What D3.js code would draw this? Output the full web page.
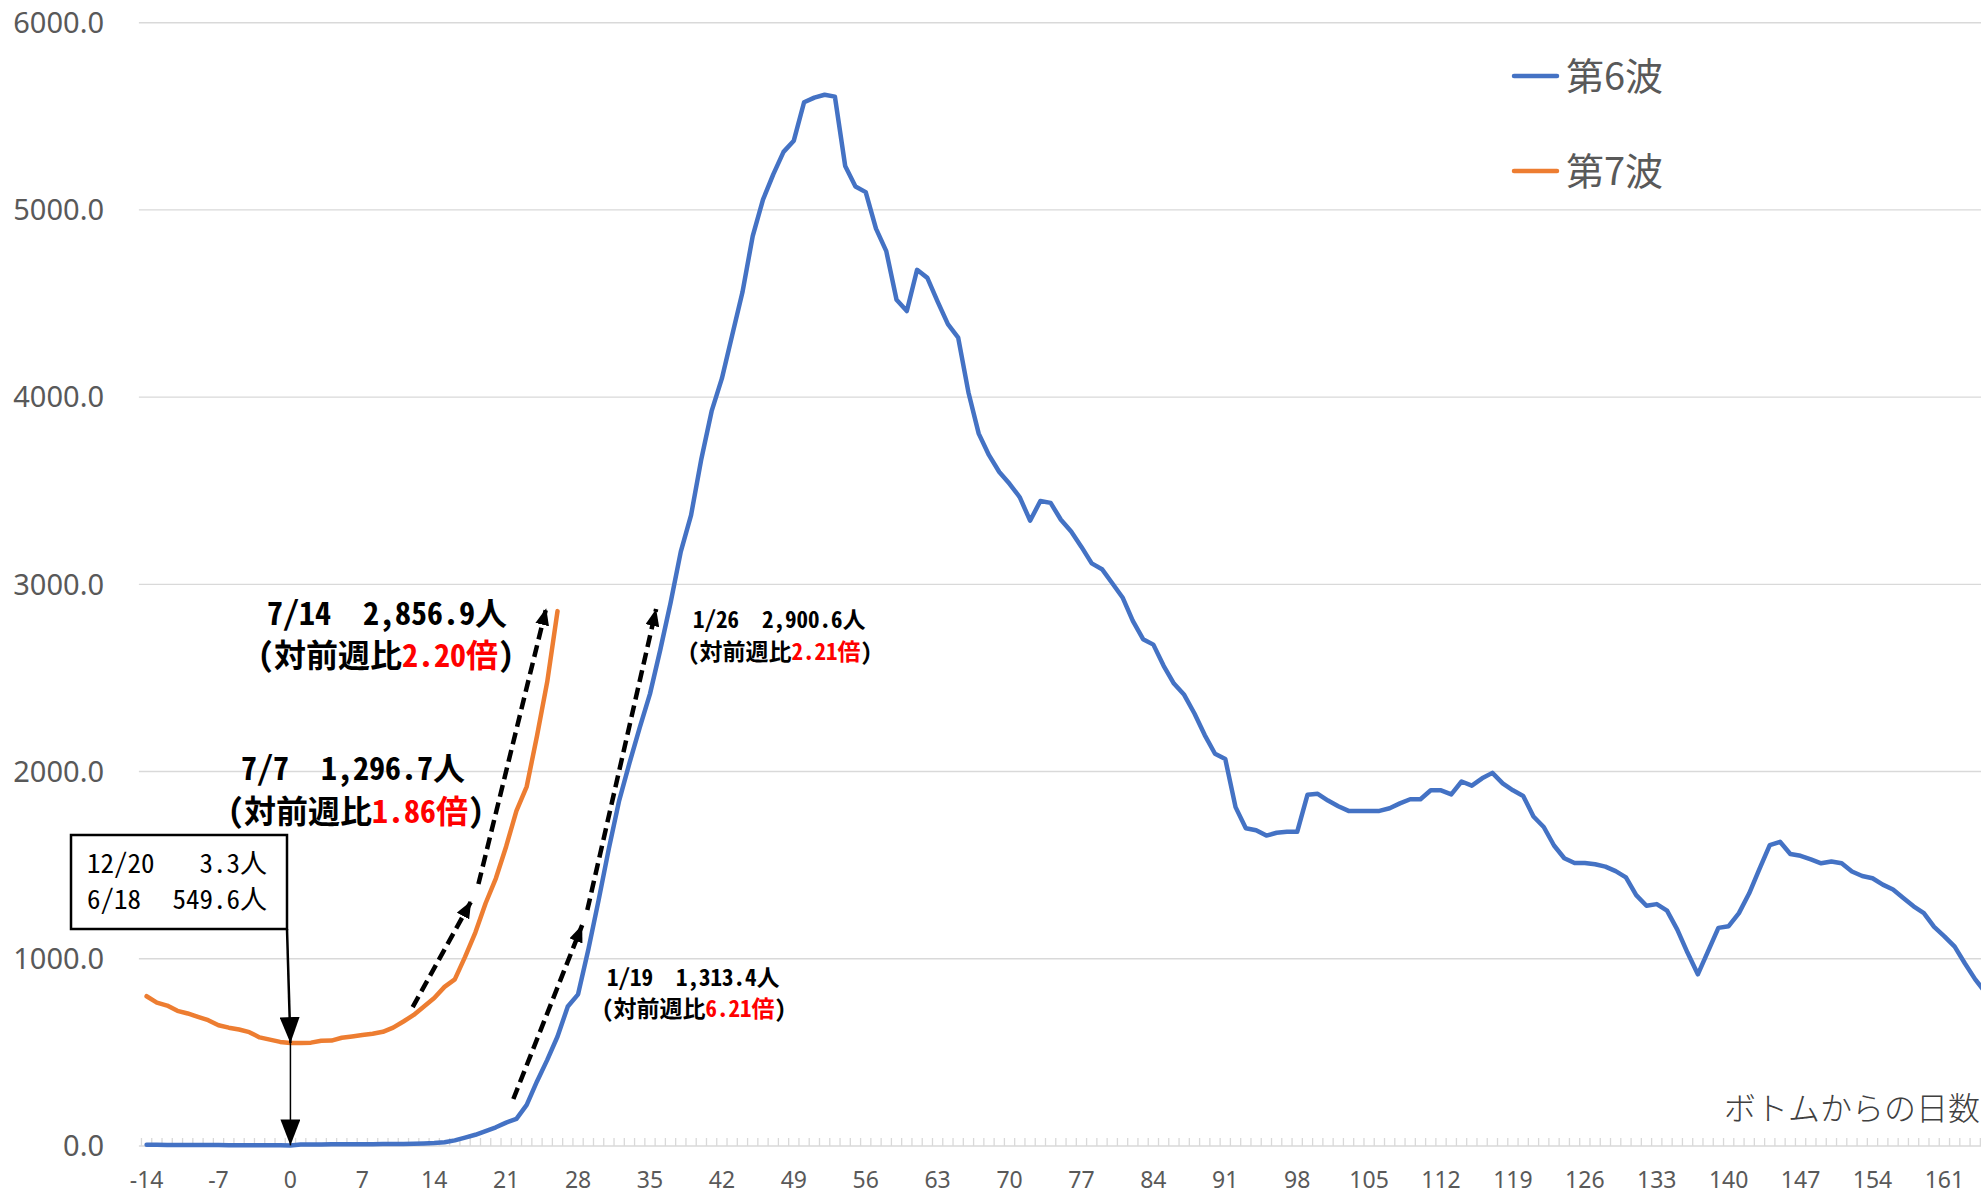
<!DOCTYPE html>
<html>
<head>
<meta charset="utf-8">
<script src="https://cdn.jsdelivr.net/npm/d3@7"></script>
<style>
body { margin: 0; background: #fff; }
svg { display: block; }
.gothic { font-family: 'Noto Sans CJK JP', sans-serif; font-feature-settings: "hwid" 1, "palt" 1; }
</style>
</head>
<body>
<div id="chart"></div>
<script>
// days counted from the bottom of each wave
var days6 = d3.range(-14, 166);
var wave6 = [
    6.6, 6.3, 6.0, 5.9, 5.6, 5.3, 5.0, 4.9, 4.6, 4.4, 4.1, 3.9, 3.7, 3.4,
    3.3,
    7.6, 8.1, 8.4, 8.7, 9.0, 9.1, 9.4, 9.9, 10.1, 10.6, 11.3, 12.0, 13.6, 16,
    20, 30, 45, 60, 80, 100, 125, 145, 220, 345, 460, 585, 745, 810,
    1050, 1313.4, 1590, 1845, 2045, 2235, 2415, 2650, 2900.6, 3175, 3370, 3670,
    3925, 4100, 4330, 4560, 4860, 5055, 5190, 5310, 5370, 5575, 5600, 5615,
    5605, 5235, 5125, 5095, 4900, 4780, 4520, 4460, 4680, 4637, 4510, 4390,
    4318, 4025, 3805, 3690, 3600, 3537, 3465, 3340, 3445, 3435, 3345, 3282,
    3200, 3112, 3081, 3006, 2930, 2805, 2707, 2678, 2565, 2470, 2410, 2310,
    2195, 2095, 2067, 1810, 1697, 1687, 1658, 1673, 1678, 1678, 1876, 1881,
    1845, 1815, 1790, 1790, 1790, 1790, 1804, 1830, 1852, 1852, 1900, 1900,
    1878, 1947, 1925, 1964, 1993, 1937, 1900, 1870, 1760, 1704, 1605, 1537,
    1512, 1512, 1505, 1492, 1468, 1435, 1340, 1283, 1292, 1257, 1156, 1032,
    917, 1041, 1165, 1174, 1244, 1350, 1480, 1607, 1625, 1560, 1550, 1531,
    1510, 1520, 1510, 1466, 1442, 1430, 1396, 1370, 1325, 1280, 1244, 1170,
    1120, 1065, 975, 890, 820
];
var days7 = d3.range(-14, 27);
var wave7 = [
    800, 766, 750, 722, 708, 690, 672, 645, 632, 622, 608, 580, 568, 556,
    549.6,
    550, 552, 562, 563, 578, 585, 593, 600, 610, 632, 665, 700, 745, 790,
    850, 890, 1010, 1140, 1296.7, 1430, 1600, 1790, 1920, 2190, 2480, 2856.9
];
var seriesNames = ["第6波", "第7波"];
var seriesColors = ["#4472C4", "#ED7D31"];
var xTicks = d3.range(-14, 162, 7);
var yTicks = [0, 1000, 2000, 3000, 4000, 5000, 6000];
var xTitle = "ボトムからの日数";

var width = 1981, height = 1194;
var x = d3.scaleLinear().domain([-14, 161]).range([146.6, 1944.4]);
var y = d3.scaleLinear().domain([0, 6000]).range([1146, 22.7]);
var plotLeft = x(-14.75);

var svg = d3.select("#chart").append("svg")
    .attr("width", width)
    .attr("height", height)
    .style("font-family", "'Noto Sans', 'Noto Sans CJK JP', sans-serif");

var defs = svg.append("defs");
function addMarker(id, len, wid) {
    defs.append("marker")
        .attr("id", id)
        .attr("markerUnits", "userSpaceOnUse")
        .attr("markerWidth", len)
        .attr("markerHeight", wid)
        .attr("refX", len)
        .attr("refY", wid / 2)
        .attr("orient", "auto")
        .append("path")
        .attr("d", "M0,0L" + len + "," + (wid / 2) + "L0," + wid + "Z")
        .attr("fill", "#000");
}
addMarker("headBig", 26, 20);
addMarker("headSmall", 17, 14);

// grid
svg.append("g").selectAll("line")
    .data(yTicks)
    .enter().append("line")
    .attr("x1", plotLeft)
    .attr("x2", width)
    .attr("y1", function (d) { return y(d); })
    .attr("y2", function (d) { return y(d); })
    .attr("stroke", "#d9d9d9")
    .attr("stroke-width", 1.4);

// small ticks on the day axis
svg.append("g").selectAll("line")
    .data(d3.range(-14, 170))
    .enter().append("line")
    .attr("x1", function (d) { return x(d - 0.5); })
    .attr("x2", function (d) { return x(d - 0.5); })
    .attr("y1", y(0))
    .attr("y2", y(0) - 8)
    .attr("stroke", "#d9d9d9")
    .attr("stroke-width", 1.3);

svg.append("g").selectAll("text")
    .data(yTicks)
    .enter().append("text")
    .attr("x", 104)
    .attr("y", function (d) { return y(d); })
    .attr("dy", "0.35em")
    .attr("text-anchor", "end")
    .attr("fill", "#595959")
    .style("font-size", "29px")
    .text(function (d) { return d3.format(".1f")(d); });

svg.append("g").selectAll("text")
    .data(xTicks)
    .enter().append("text")
    .attr("x", function (d) { return x(d); })
    .attr("y", 1188)
    .attr("text-anchor", "middle")
    .attr("fill", "#595959")
    .style("font-size", "23px")
    .text(function (d) { return d; });

svg.append("text")
    .attr("x", 1724)
    .attr("y", 1120)
    .attr("fill", "#404040")
    .style("font-family", "'Noto Sans CJK JP', sans-serif")
    .style("font-weight", "300")
    .style("font-size", "32px")
    .text(xTitle);

// series
var line = d3.line()
    .x(function (d) { return x(d[0]); })
    .y(function (d) { return y(d[1]); });
var series = [d3.zip(days6, wave6), d3.zip(days7, wave7)];
series.forEach(function (s, i) {
    svg.append("path")
        .datum(s)
        .attr("d", line)
        .attr("fill", "none")
        .attr("stroke", seriesColors[i])
        .attr("stroke-width", 4.5)
        .attr("stroke-linejoin", "round")
        .attr("stroke-linecap", "round");
});

// legend
seriesNames.forEach(function (name, i) {
    var ly = 76 + i * 95;
    svg.append("line")
        .attr("x1", 1514).attr("x2", 1557)
        .attr("y1", ly).attr("y2", ly)
        .attr("stroke", seriesColors[i])
        .attr("stroke-width", 4.5)
        .attr("stroke-linecap", "round");
    svg.append("text")
        .attr("x", 1566)
        .attr("y", ly + 14)
        .attr("fill", "#595959")
        .style("font-family", "'Noto Sans CJK JP', sans-serif")
        .style("font-size", "38px")
        .text(name);
});

// bottom box and arrows down to the bottoms
svg.append("rect")
    .attr("x", 71).attr("y", 835)
    .attr("width", 216).attr("height", 94)
    .attr("fill", "#fff")
    .attr("stroke", "#000")
    .attr("stroke-width", 2.5);

var boxLines = [
    { left: "12/20", right: "3.3人", base: 873 },
    { left: "6/18", right: "549.6人", base: 909 }
];
boxLines.forEach(function (b) {
    svg.append("text")
        .attr("class", "gothic")
        .attr("x", 87).attr("y", b.base)
        .style("font-size", "27px")
        .text(b.left);
    svg.append("text")
        .attr("class", "gothic")
        .attr("x", 267).attr("y", b.base)
        .attr("text-anchor", "end")
        .style("font-size", "27px")
        .text(b.right);
});

svg.append("line")
    .attr("x1", 287).attr("y1", 929)
    .attr("x2", x(0)).attr("y2", y(wave7[14]))
    .attr("stroke", "#000").attr("stroke-width", 2.5)
    .attr("marker-end", "url(#headBig)");
svg.append("line")
    .attr("x1", x(0)).attr("y1", y(wave7[14]))
    .attr("x2", x(0)).attr("y2", y(wave6[14]))
    .attr("stroke", "#000").attr("stroke-width", 1.5)
    .attr("marker-end", "url(#headBig)");

// dashed growth arrows, in day / value units
var growthArrows = [
    [11.9, 742, 17.6, 1308],
    [18.3, 1399, 24.9, 2873],
    [21.7, 251, 28.4, 1180],
    [28.9, 1260, 35.6, 2868]
];
svg.append("g").selectAll("line")
    .data(growthArrows)
    .enter().append("line")
    .attr("x1", function (d) { return x(d[0]); })
    .attr("y1", function (d) { return y(d[1]); })
    .attr("x2", function (d) { return x(d[2]); })
    .attr("y2", function (d) { return y(d[3]); })
    .attr("stroke", "#000")
    .attr("stroke-width", 4.5)
    .attr("stroke-dasharray", "12,6")
    .attr("marker-end", "url(#headSmall)");

// week-on-week notes; null part = one full-width gap
var notes = [
    { x: 267, base: 625, size: 32, parts: [["7/14", "#000"], null, ["2,856.9人", "#000"]] },
    { x: 258, base: 667, size: 32, parts: [["（対前週比", "#000"], ["2.20倍", "#ff0000"], ["）", "#000"]] },
    { x: 241, base: 780, size: 32, parts: [["7/7", "#000"], null, ["1,296.7人", "#000"]] },
    { x: 228, base: 823, size: 32, parts: [["（対前週比", "#000"], ["1.86倍", "#ff0000"], ["）", "#000"]] },
    { x: 693, base: 628, size: 23, parts: [["1/26", "#000"], null, ["2,900.6人", "#000"]] },
    { x: 688, base: 660, size: 23, parts: [["（対前週比", "#000"], ["2.21倍", "#ff0000"], ["）", "#000"]] },
    { x: 607, base: 986, size: 23, parts: [["1/19", "#000"], null, ["1,313.4人", "#000"]] },
    { x: 602, base: 1017, size: 23, parts: [["（対前週比", "#000"], ["6.21倍", "#ff0000"], ["）", "#000"]] }
];
notes.forEach(function (n) {
    var cx = n.x;
    n.parts.forEach(function (p) {
        if (!p) { cx += n.size; return; }
        var t = svg.append("text")
            .attr("class", "gothic")
            .attr("x", cx)
            .attr("y", n.base)
            .attr("fill", p[1])
            .style("font-weight", "700")
            .style("font-size", n.size + "px")
            .text(p[0]);
        cx += t.node().getComputedTextLength();
    });
});
</script>
</body>
</html>
